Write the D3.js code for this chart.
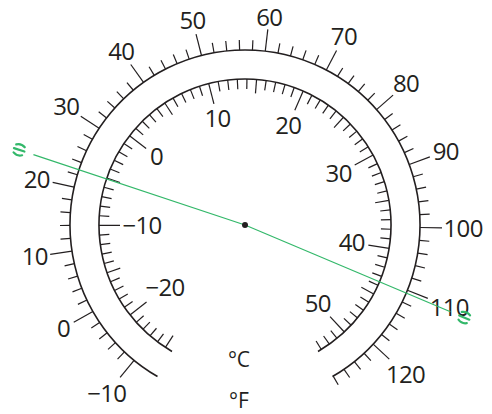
<!DOCTYPE html>
<html><head><meta charset="utf-8">
<script src="https://cdn.jsdelivr.net/npm/d3@7"></script>
<style>body{margin:0;background:#fff} svg{display:block}</style>
</head><body>
<script>
// ---- data ----
const celsiusDomain = [-25.8, 53.4];
const celsiusTicks = d3.range(-25, 54, 1);
const celsiusLabels = [-20, -10, 0, 10, 20, 30, 40, 50];
const fahrenheitTicks = d3.range(-10, 129, 2);
const fahrenheitLabels = [-10, 0, 10, 20, 30, 40, 50, 60, 70, 80, 90, 100, 110, 120];
const needleCelsius = [-5.1, 43.6];
const unitLabels = ["°C", "°F"];

// ---- layout ----
const W = 492, H = 414, cx = 245, cy = 225;
const rC = 146, rF = 175;
const ink = "#231f20", green = "#33b86a";
const fontFamily = "'Open Sans', 'Noto Sans', sans-serif";
const fontSize = 24;

const angle = d3.scaleLinear().domain(celsiusDomain).range([-150, 150]); // degrees clockwise from top
const f2c = f => (f - 32) / 1.8;
const rad = d => d * Math.PI / 180;
const pt = (deg, r) => [cx + r * Math.sin(rad(deg)), cy - r * Math.cos(rad(deg))];
const fmt = d3.format("d");

const svg = d3.select("body").append("svg").attr("width", W).attr("height", H);

function arcPath(r, a0, a1) {
  const p = d3.path();
  p.arc(cx, cy, r, rad(a0 - 90), rad(a1 - 90));
  return p.toString();
}

// arcs
svg.append("path").attr("d", arcPath(rF, -150, 150))
  .attr("fill", "none").attr("stroke", ink).attr("stroke-width", 1.6);
svg.append("path").attr("d", arcPath(rC, -150, 150))
  .attr("fill", "none").attr("stroke", ink).attr("stroke-width", 1.6);

// Fahrenheit ticks (outside)
svg.append("g").selectAll("line").data(fahrenheitTicks).join("line")
  .each(function (f) {
    const a = angle(f2c(f));
    const len = f % 10 === 0 ? 22 : 10;
    const [x1, y1] = pt(a, rF), [x2, y2] = pt(a, rF + len);
    d3.select(this).attr("x1", x1).attr("y1", y1).attr("x2", x2).attr("y2", y2);
  })
  .attr("stroke", ink).attr("stroke-width", 1.2);

// Celsius ticks (inside)
svg.append("g").selectAll("line").data(celsiusTicks).join("line")
  .each(function (c) {
    const a = angle(c);
    const len = c % 10 === 0 ? 21 : (c % 5 === 0 ? 14 : 10);
    const [x1, y1] = pt(a, rC), [x2, y2] = pt(a, rC - len);
    d3.select(this).attr("x1", x1).attr("y1", y1).attr("x2", x2).attr("y2", y2);
  })
  .attr("stroke", ink).attr("stroke-width", 1.2);

function placeLabels(values, toAngle, r0, outward) {
  svg.append("g").selectAll("text").data(values).join("text")
    .attr("font-family", fontFamily).attr("font-size", fontSize)
    .attr("letter-spacing", "-0.7px")
    .attr("fill", ink).attr("text-anchor", "middle")
    .text(d => fmt(d))
    .each(function (d) {
      const deg = toAngle(d), a = rad(deg);
      const hw = this.getComputedTextLength() / 2 - 0.5;
      const hh = 9;
      const proj = hw * Math.abs(Math.sin(a)) + hh * Math.abs(Math.cos(a));
      const [x, y] = pt(deg, outward ? r0 + proj : r0 - proj);
      d3.select(this).attr("x", x).attr("y", y + fontSize * 0.357);
    });
}
placeLabels(fahrenheitLabels, f => angle(f2c(f)), 199, true);
placeLabels(celsiusLabels, c => angle(c), 122, false);

// unit labels
svg.append("g").selectAll("text").data(unitLabels).join("text")
  .attr("font-family", fontFamily).attr("font-size", 21).attr("fill", ink)
  .attr("text-anchor", "middle")
  .attr("x", 239).attr("y", (d, i) => 367 + i * 41)
  .text(d => d);

// needles
const gN = svg.append("g");
needleCelsius.forEach(c => {
  const a = angle(c);
  const [x2, y2] = pt(a, 223);
  gN.append("line").attr("x1", cx).attr("y1", cy).attr("x2", x2).attr("y2", y2)
    .attr("stroke", green).attr("stroke-width", 1.2);
  const [hx, hy] = pt(a, 238);
  const rot = a - 90;
  const h = gN.append("g").attr("transform", `translate(${hx},${hy}) rotate(${rot})`)
    .attr("fill", "none").attr("stroke", green).attr("stroke-width", 2.2).attr("stroke-linecap", "round");
  h.append("path").attr("d", "M-4.5,-4.2 Q0,-7 4.5,-4.2");
  h.append("path").attr("d", "M-4.5,4.2 Q0,7 4.5,4.2");
  h.append("path").attr("d", "M-5.5,0 L5.5,0");
});

svg.append("circle").attr("cx", cx).attr("cy", cy).attr("r", 3).attr("fill", ink);
</script>
</body></html>
